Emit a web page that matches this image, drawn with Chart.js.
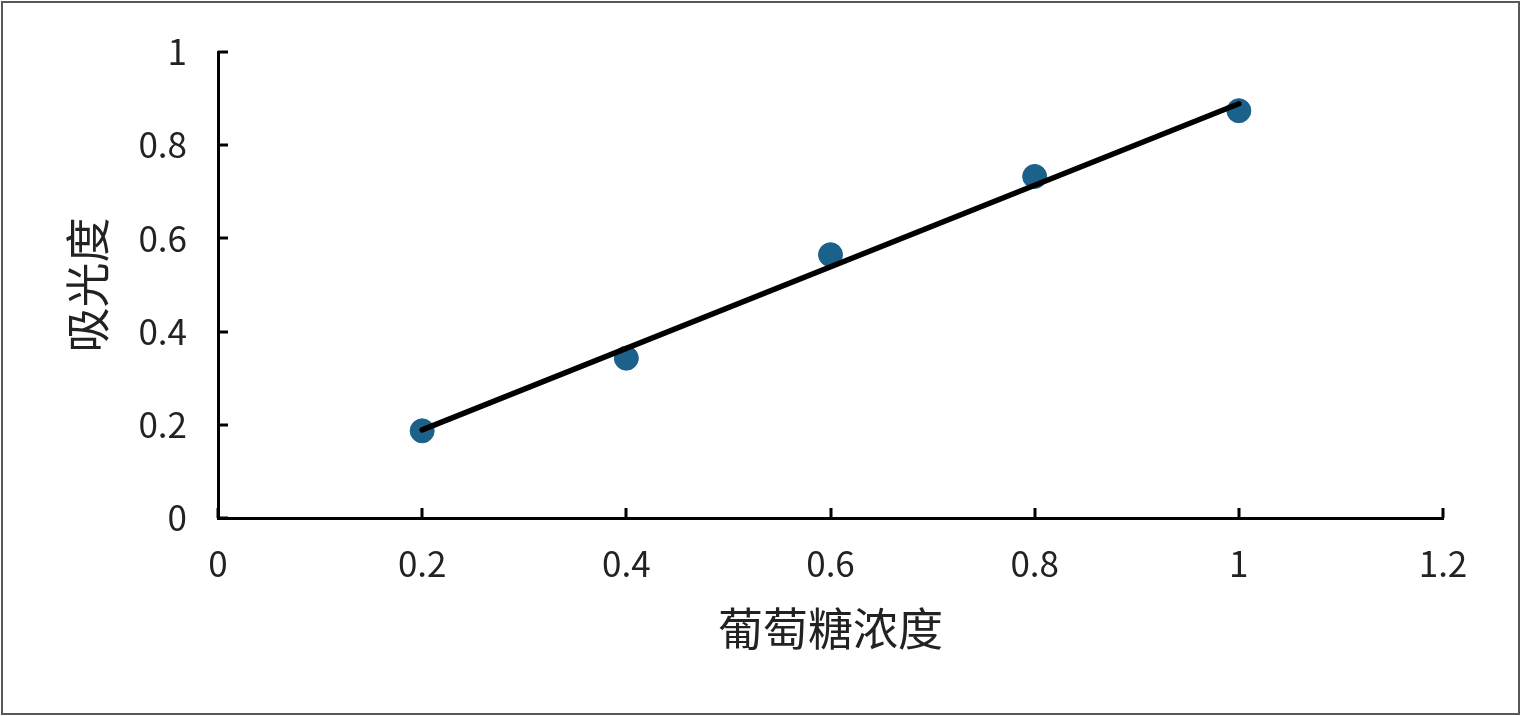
<!DOCTYPE html>
<html lang="zh">
<head>
    <meta charset="UTF-8">
    <title>吸光度</title>
    <script src="https://cdn.jsdelivr.net/npm/chart.js"></script>
    <style>
        html, body { margin: 0; padding: 0; background: #fff; }
        #wrap { width: 1521px; height: 716px; position: relative; }
    </style>
</head>
<body>
    <div id="wrap"><canvas id="chart" width="1521" height="716"></canvas></div>

    <script>
        // data
        const concentration = [0.2, 0.4, 0.6, 0.8, 1.0];
        const absorbance = [0.187, 0.343, 0.565, 0.733, 0.874];
        // linear trendline end points
        const trendX = [0.2, 1.0];
        const trendY = [0.189, 0.889];
        const xTickLabels = ['0', '0.2', '0.4', '0.6', '0.8', '1', '1.2'];
        const yTickLabels = ['0', '0.2', '0.4', '0.6', '0.8', '1'];

        const FONT = "'Noto Sans CJK SC', 'Noto Sans', sans-serif";

        // inward tick marks + outer frame
        const decor = {
            id: 'decor',
            afterDraw(chart) {
                const ctx = chart.ctx;
                const xs = chart.scales.x, ys = chart.scales.y;
                const area = chart.chartArea;
                ctx.save();
                ctx.strokeStyle = '#000';
                ctx.lineWidth = 3;
                ctx.beginPath();
                xs.ticks.forEach(t => {
                    const px = Math.round(xs.getPixelForValue(t.value));
                    ctx.moveTo(px, area.bottom);
                    ctx.lineTo(px, area.bottom - 10);
                });
                ys.ticks.forEach(t => {
                    const py = Math.round(ys.getPixelForValue(t.value));
                    ctx.moveTo(area.left, py);
                    ctx.lineTo(area.left + 10, py);
                });
                ctx.stroke();
                ctx.strokeStyle = '#595959';
                ctx.lineWidth = 2;
                ctx.strokeRect(2, 2, chart.width - 4, chart.height - 4);
                ctx.restore();
            }
        };

        new Chart(document.getElementById('chart'), {
            data: {
                datasets: [{
                    type: 'line',
                    label: 'trend',
                    data: trendX.map((x, i) => ({ x: x, y: trendY[i] })),
                    borderColor: '#000',
                    borderWidth: 5.5,
                    borderCapStyle: 'round',
                    pointRadius: 0,
                    order: 0
                }, {
                    type: 'scatter',
                    label: '吸光度',
                    data: concentration.map((x, i) => ({ x: x, y: absorbance[i] })),
                    backgroundColor: '#1c6189',
                    borderColor: '#1c6189',
                    pointRadius: 12,
                    order: 1
                }]
            },
            options: {
                responsive: false,
                animation: false,
                layout: { padding: { left: 0, top: 52, right: 78, bottom: 0 } },
                plugins: { legend: { display: false }, tooltip: { enabled: false } },
                scales: {
                    x: {
                        type: 'linear',
                        min: 0, max: 1.2,
                        afterFit: s => { s.height = 198; },
                        grid: { display: false, drawTicks: false },
                        border: { color: '#000', width: 3 },
                        ticks: {
                            stepSize: 0.2,
                            padding: 25,
                            color: '#222',
                            font: { family: FONT, size: 35 },
                            callback: (v, i) => xTickLabels[i]
                        },
                        title: {
                            display: true,
                            text: '葡萄糖浓度',
                            color: '#222',
                            font: { family: FONT, size: 45 },
                            padding: { top: 0, bottom: 60 }
                        }
                    },
                    y: {
                        type: 'linear',
                        min: 0, max: 1,
                        afterFit: s => { s.width = 218; },
                        grid: { display: false, drawTicks: false },
                        border: { color: '#000', width: 3 },
                        ticks: {
                            stepSize: 0.2,
                            padding: 31,
                            color: '#222',
                            font: { family: FONT, size: 35 },
                            callback: (v, i) => yTickLabels[i]
                        },
                        title: {
                            display: true,
                            text: '吸光度',
                            color: '#222',
                            font: { family: FONT, size: 45 },
                            padding: { top: 61, bottom: 0 }
                        }
                    }
                }
            },
            plugins: [decor]
        });
    </script>
</body>
</html>
